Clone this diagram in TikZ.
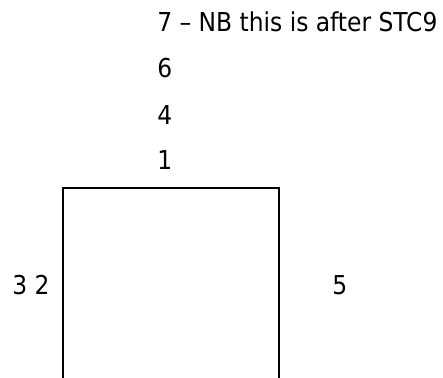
\documentclass[tikz,border=0pt]{standalone}
\usepackage{fontspec}
\setmainfont{DejaVu Sans Condensed}
\usepackage{tikz}
\usetikzlibrary{calc,positioning}

\begin{document}
\begin{tikzpicture}[x=0.75pt,y=-0.75pt]

\tikzset{numlabel/.style={font=\fontsize{19.5pt}{22pt}\selectfont,inner sep=0pt,anchor=base west},
sideline/.style={line width=1pt,black}}

% Frame
\useasboundingbox (0,0) rectangle (443,378);

% Open box
\coordinate (boxBL) at (63,378);
\coordinate (boxTL) at (63,188);
\coordinate (boxTR) at (279,188);
\coordinate (boxBR) at (279,378);
\draw[sideline] (boxBL) -- (boxTL) -- (boxTR) -- (boxBR);

% Stacked labels above
\node[numlabel] (lbl7) at (157,32) {7 – NB this is after STC9};
\node[numlabel] (lbl6) at ($(lbl7.base west) + (0,46)$) {6};
\node[numlabel] (lbl4) at ($(lbl6.base west) + (0,46)$) {4};
\node[numlabel] (lbl1) at ($(lbl4.base west) + (0,46)$) {1};

% Side labels
\node[numlabel] (lbl32) at (12,294) {3 2};
\node[numlabel] (lbl5) at (332,294) {5};

\end{tikzpicture}
\end{document}
